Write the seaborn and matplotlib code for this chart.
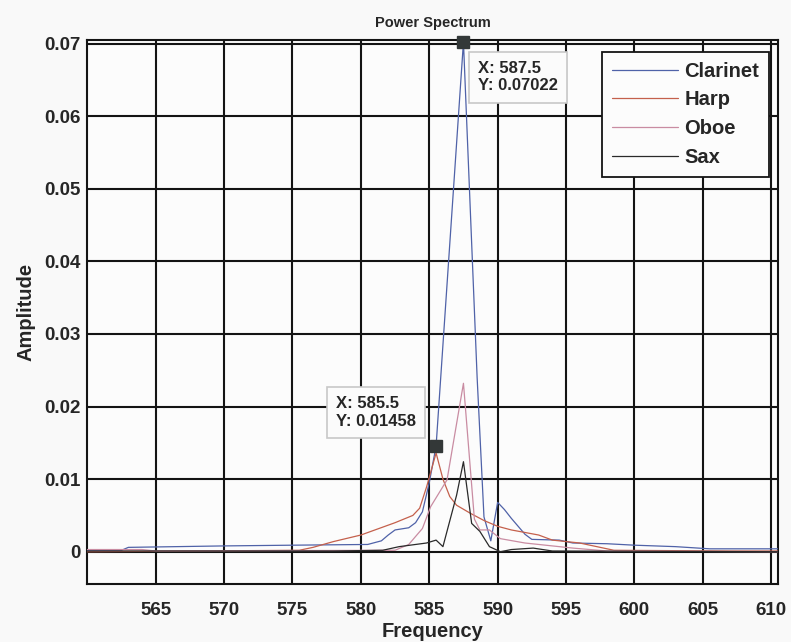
import matplotlib
matplotlib.use("Agg")
import matplotlib.pyplot as plt
import seaborn as sns
import pandas as pd

# Spectrum traces (frequency in Hz, amplitude)
clarinet_freq = [560, 562.5, 563, 570, 575, 580.5, 581.5, 582, 582.5, 583.5, 584, 584.5, 585,
                 585.5, 586.5, 587.5, 588.5, 589.0, 589.5, 590.0, 590.5, 591, 591.5, 592, 592.5,
                 594.5, 595.5, 598, 600, 603, 605.5, 610.5]
clarinet_amp = [0.0002, 0.0002, 0.0006, 0.0008, 0.0009, 0.0010, 0.0015, 0.0023, 0.0030, 0.0033,
                0.0040, 0.0055, 0.0095, 0.01458, 0.0424, 0.07022, 0.0240, 0.0048, 0.0015, 0.0068,
                0.0058, 0.0046, 0.0035, 0.0024, 0.0017, 0.0016, 0.0012, 0.0011, 0.0009, 0.0007,
                0.0004, 0.0004]

harp_freq = [560, 575.5, 576.5, 578, 580, 582.5, 583.8, 584.3, 584.8, 585.5, 586, 586.5, 587,
             588, 589, 590, 591, 593, 594, 596, 598.5, 607, 610.5]
harp_amp = [0.0, 0.0002, 0.0006, 0.0014, 0.0023, 0.0040, 0.0050, 0.0060, 0.0089, 0.0136, 0.0100,
            0.0076, 0.0064, 0.0053, 0.0043, 0.0035, 0.0030, 0.0023, 0.0016, 0.0012, 0.0002,
            0.0001, 0.0001]

oboe_freq = [560, 564, 565, 582.5, 583.5, 584.5, 585.1, 586.3, 587.5, 588.3, 588.7, 589.4, 590.2,
             592, 595.5, 598, 610.5]
oboe_amp = [0.0003, 0.0003, 0.0001, 0.0002, 0.0010, 0.0032, 0.0062, 0.0099, 0.0232, 0.0045,
            0.0030, 0.0030, 0.0018, 0.0012, 0.0005, 0.0001, 0.0]

sax_freq = [560, 578, 581.6, 582.8, 584.8, 585.5, 586.0, 587.0, 587.5, 588.1, 588.7, 589.4, 590.2,
            591, 592.6, 594, 610.5]
sax_amp = [0.0001, 0.0001, 0.0002, 0.0007, 0.0012, 0.0016, 0.0007, 0.0078, 0.0124, 0.0039, 0.0028,
           0.0007, 0.0, 0.0003, 0.0005, 0.0001, 0.0]

instruments = ["Clarinet", "Harp", "Oboe", "Sax"]
line_colors = ["#4f62a8", "#c4604c", "#c98ca2", "#2a2a2a"]

# Data cursors
tip_points = [(587.5, 0.07022), (585.5, 0.01458)]

x_ticks = [565, 570, 575, 580, 585, 590, 595, 600, 605, 610]
y_ticks = [0, 0.01, 0.02, 0.03, 0.04, 0.05, 0.06, 0.07]
y_tick_labels = ["0", "0.01", "0.02", "0.03", "0.04", "0.05", "0.06", "0.07"]

frames = []
for name, f, a in zip(instruments,
                      [clarinet_freq, harp_freq, oboe_freq, sax_freq],
                      [clarinet_amp, harp_amp, oboe_amp, sax_amp]):
    frames.append(pd.DataFrame({"Frequency": f, "Amplitude": a, "Instrument": name}))
df = pd.concat(frames, ignore_index=True)

sns.set_style("white")
plt.rcParams["font.family"] = ["Liberation Sans", "DejaVu Sans"]
plt.rcParams["font.weight"] = "bold"

fig = plt.figure(figsize=(7.91, 6.42), dpi=100, facecolor="#f9f9f9")
ax = fig.add_axes([0.1104, 0.0903, 0.8732, 0.8481])
ax.set_facecolor("#fcfcfc")

sns.lineplot(data=df, x="Frequency", y="Amplitude", hue="Instrument",
             hue_order=instruments, palette=dict(zip(instruments, line_colors)),
             estimator=None, sort=False, linewidth=0.9, ax=ax, zorder=3)

ax.set_xlim(560, 610.5)
ax.set_ylim(-0.00445, 0.07055)
ax.set_xticks(x_ticks)
ax.set_xticklabels([str(t) for t in x_ticks], fontsize=13.5, fontweight="bold")
ax.set_yticks(y_ticks)
ax.set_yticklabels(y_tick_labels, fontsize=13.5, fontweight="bold")
ax.tick_params(axis="both", length=0)
ax.tick_params(axis="x", pad=13)
ax.tick_params(axis="y", pad=5)
ax.grid(True, color="#141414", linewidth=1.5, zorder=1)
ax.set_axisbelow(True)
for sp in ax.spines.values():
    sp.set_color("#141414")
    sp.set_linewidth(1.5)

ax.set_title("Power Spectrum", fontsize=10.5, fontweight="bold", pad=9)
ax.set_xlabel("Frequency", fontsize=14.5, fontweight="bold", labelpad=2)
ax.set_ylabel("Amplitude", fontsize=14.5, fontweight="bold", labelpad=6)

leg = ax.legend(loc="upper right", bbox_to_anchor=(0.9874, 0.9776), borderaxespad=0,
                frameon=True, fancybox=False, framealpha=1,
                handlelength=3.3, handletextpad=0.3, labelspacing=0.48,
                borderpad=0.5, prop={"weight": "bold", "size": 14.5})
leg.get_frame().set_edgecolor("#141414")
leg.get_frame().set_linewidth(1.3)
leg.get_frame().set_facecolor("#fcfcfc")
for h in leg.get_lines():
    h.set_linewidth(0.9)

# Data cursor markers and readouts
tip_offsets = [((15, -19), "left", "top"), ((-20, 17), "right", "bottom")]
for (tx, ty), ((dx, dy), ha, va) in zip(tip_points, tip_offsets):
    ax.plot([tx], [ty], marker="s", markersize=9, color="#333838", zorder=6, clip_on=False)
    ax.annotate(f"X: {tx}\nY: {ty}", xy=(tx, ty), xytext=(dx, dy), textcoords="offset pixels",
                ha=ha, va=va, multialignment="left", fontsize=12, fontweight="bold",
                linespacing=1.2, zorder=7,
                bbox=dict(boxstyle="square,pad=0.55", facecolor="#fbfbfb", edgecolor="#c8c8c8",
                          linewidth=1.2))

fig.savefig("out.png", dpi=100, facecolor=fig.get_facecolor())
